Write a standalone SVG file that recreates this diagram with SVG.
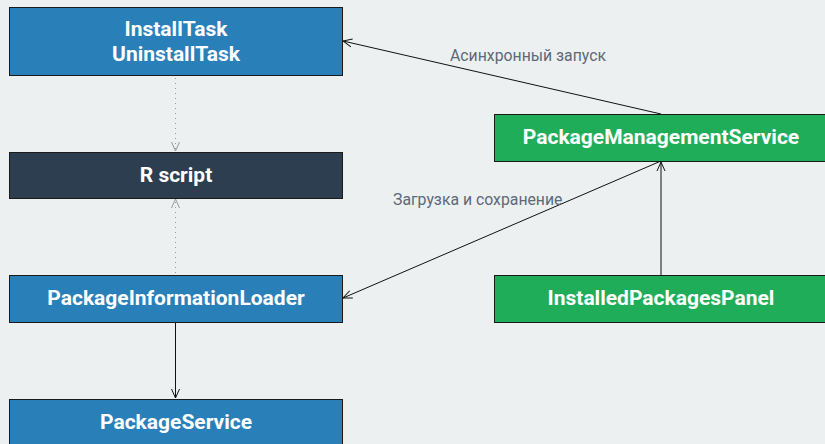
<svg xmlns="http://www.w3.org/2000/svg" width="825" height="444" viewBox="0 0 825 444">
<defs>
<style>
.box{stroke:#1a1a1a;stroke-width:1}
.blue{fill:#2980b9}
.dark{fill:#2c3e50}
.green{fill:#1fad5a}
.t{font-family:Roboto,"Liberation Sans",sans-serif;font-weight:bold;font-size:21px;fill:#fff;text-anchor:middle}
.lbl{font-family:Roboto,"Liberation Sans",sans-serif;font-size:15.8px;fill:#5d6878}
.c{fill:none;stroke:#111;stroke-width:1}
.d{fill:none;stroke:#999;stroke-width:1;stroke-dasharray:1 4}
</style>
<marker id="a" viewBox="0 0 10 10" refX="10" refY="5" markerWidth="10" markerHeight="10" markerUnits="userSpaceOnUse" orient="auto">
<path d="M1,1 L10,5 L1,9" fill="none" stroke="#111" stroke-width="1"/>
</marker>
<marker id="ag" viewBox="0 0 10 10" refX="10" refY="5" markerWidth="10" markerHeight="10" markerUnits="userSpaceOnUse" orient="auto">
<path d="M1,1 L10,5 L1,9" fill="none" stroke="#999" stroke-width="1"/>
</marker>
</defs>
<rect width="825" height="444" fill="#ecf0f1"/>
<g id="connectors">
<line class="d" x1="175.5" y1="78" x2="175.5" y2="151" marker-end="url(#ag)"/>
<line class="d" x1="175.5" y1="273" x2="175.5" y2="199" marker-end="url(#ag)"/>
<line class="c" x1="175.5" y1="322" x2="175.5" y2="398" marker-end="url(#a)"/>
<line class="c" x1="661" y1="114" x2="343" y2="41" marker-end="url(#a)"/>
<line class="c" x1="661" y1="161" x2="343" y2="298" marker-end="url(#a)"/>
<line class="c" x1="661" y1="275" x2="661" y2="162" marker-end="url(#a)"/>
<text class="lbl" x="450" y="61">Асинхронный запуск</text>
<text class="lbl" x="393" y="205">Загрузка и сохранение</text>
</g>
<g id="installtask">
<rect class="box blue" x="9.5" y="7.5" width="333" height="68"/>
<text class="t" x="176" y="36">InstallTask</text>
<text class="t" x="176" y="61">UninstallTask</text>
</g>
<g id="rscript">
<rect class="box dark" x="9.5" y="152.5" width="333" height="46"/>
<text class="t" x="176" y="182">R script</text>
</g>
<g id="pil">
<rect class="box blue" x="9.5" y="275.5" width="333" height="47"/>
<text class="t" x="176" y="305">PackageInformationLoader</text>
</g>
<g id="packageservice">
<rect class="box blue" x="9.5" y="399.5" width="333" height="50"/>
<text class="t" x="176" y="429">PackageService</text>
</g>
<g id="pms">
<rect class="box green" x="494.5" y="114.5" width="340" height="47"/>
<text class="t" x="661" y="144">PackageManagementService</text>
</g>
<g id="panel">
<rect class="box green" x="494.5" y="275.5" width="340" height="47"/>
<text class="t" x="661" y="305">InstalledPackagesPanel</text>
</g>
</svg>
